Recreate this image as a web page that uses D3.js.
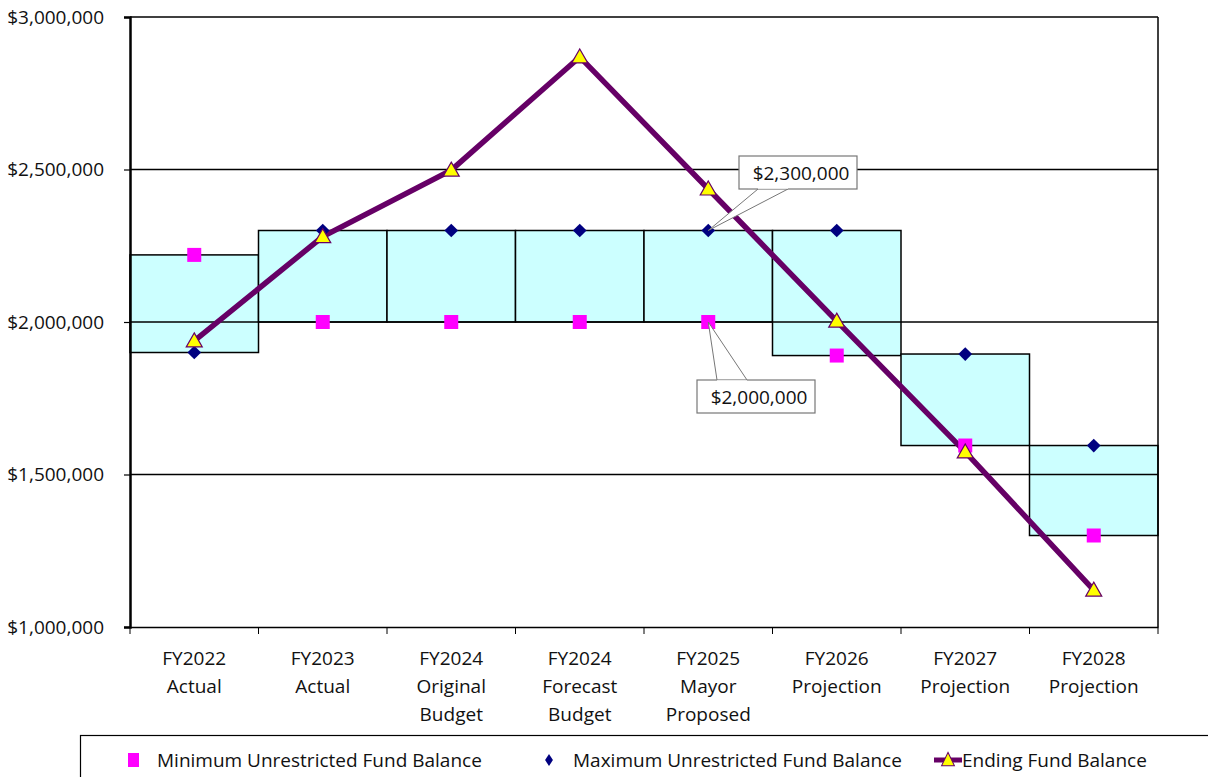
<!DOCTYPE html>
<html><head><meta charset="utf-8">
<script src="https://cdn.jsdelivr.net/npm/d3@7"></script>
<style>
body{margin:0;background:#fff;}
svg{display:block;font-family:"Open Sans",sans-serif;}
</style></head>
<body><svg id="c" width="1208" height="777"></svg>
<script>
const categories = [["FY2022","Actual"],["FY2023","Actual"],["FY2024","Original","Budget"],["FY2024","Forecast","Budget"],["FY2025","Mayor","Proposed"],["FY2026","Projection"],["FY2027","Projection"],["FY2028","Projection"]];
const minBalance = [2220000,2000000,2000000,2000000,2000000,1890000,1595000,1300000];
const maxBalance = [1900000,2300000,2300000,2300000,2300000,2300000,1895000,1595000];
const endingBalance = [1938000,2280000,2498000,2869000,2436000,2003000,1574000,1121000];
const yTicks = [1000000,1500000,2000000,2500000,3000000];
const seriesNames = ["Minimum Unrestricted Fund Balance","Maximum Unrestricted Fund Balance","Ending Fund Balance"];

const FS = 19;
const svg = d3.select("#c");
const L=130,R=1158,T=17,B=627;
const keys = categories.map((c,i)=>i);
const x = d3.scaleBand().domain(keys).range([L,R]).padding(0);
const y = d3.scaleLinear().domain([1000000,3000000]).range([B,T]);
const cx = i => x(i)+x.bandwidth()/2;
const fmt = v => "$"+d3.format(",")(v);

// boxes
svg.append("g").selectAll("rect").data(keys).join("rect")
  .attr("x",i=>x(i)).attr("width",x.bandwidth())
  .attr("y",i=>y(Math.max(minBalance[i],maxBalance[i])))
  .attr("height",i=>Math.abs(y(minBalance[i])-y(maxBalance[i])))
  .attr("fill","#CCFFFF").attr("stroke","#000").attr("stroke-width",1.5);

// gridlines
svg.append("g").selectAll("line").data(yTicks.slice(1)).join("line")
  .attr("x1",L).attr("x2",R).attr("y1",d=>y(d)).attr("y2",d=>y(d))
  .attr("stroke","#000").attr("stroke-width",1.5);
svg.append("line").attr("x1",R).attr("x2",R).attr("y1",T).attr("y2",B).attr("stroke","#000").attr("stroke-width",1.5);

// y axis
const ya = svg.append("g").attr("transform",`translate(${L},0)`)
  .call(d3.axisLeft(y).tickValues(yTicks).tickFormat(fmt).tickSize(6).tickPadding(20));
ya.attr("font-size",FS).attr("font-family",null);
ya.select(".domain").attr("stroke","#000").attr("stroke-width",2.5);
ya.selectAll(".tick line").attr("stroke","#000").attr("stroke-width",1.2);
ya.selectAll("text").attr("fill","#111");

// x axis
const xa = svg.append("g").attr("transform",`translate(0,${B})`)
  .call(d3.axisBottom(x).tickSize(0).tickFormat(""));
xa.select(".domain").attr("stroke","#000").attr("stroke-width",1.5);
svg.append("g").selectAll("line").data(d3.range(categories.length+1)).join("line")
  .attr("x1",i=>L+i*x.bandwidth()).attr("x2",i=>L+i*x.bandwidth())
  .attr("y1",B).attr("y2",B+7).attr("stroke","#000").attr("stroke-width",1);
const xl = svg.append("g").selectAll("text").data(keys).join("text")
  .attr("x",i=>cx(i)).attr("y",B+38).attr("text-anchor","middle")
  .attr("font-size",FS).attr("fill","#111");
xl.each(function(i){
  const t=d3.select(this);
  categories[i].forEach((s,k)=>t.append("tspan").attr("x",cx(i)).attr("dy",k?28:0).text(s));
});

// ending line
const line = d3.line().x((d,i)=>cx(i)).y(d=>y(d));
svg.append("path").datum(endingBalance).attr("d",line)
  .attr("fill","none").attr("stroke","#660066").attr("stroke-width",5.5).attr("stroke-linejoin","miter");

// min squares
svg.append("g").selectAll("rect").data(minBalance).join("rect")
  .attr("x",(d,i)=>cx(i)-7).attr("y",d=>y(d)-7).attr("width",14).attr("height",14)
  .attr("fill","#FF00FF");
// max diamonds
const diamond = d3.symbol().type(d3.symbolDiamond2).size(120);
svg.append("g").selectAll("path").data(maxBalance).join("path")
  .attr("d",diamond).attr("transform",(d,i)=>`translate(${cx(i)},${y(d)})`)
  .attr("fill","#000080");
// triangles
const tri = "M0,-8L8,6L-8,6Z";
svg.append("g").selectAll("path").data(endingBalance).join("path")
  .attr("d",tri).attr("transform",(d,i)=>`translate(${cx(i)},${y(d)})`)
  .attr("fill","#FFFF00").attr("stroke","#660066").attr("stroke-width",1.2);

// callouts
function callout(i,val,bx,by,bw,bh,p1,p2){
  const px=cx(i), py=y(val);
  const g=svg.append("g");
  g.append("path").attr("d",`M${p1[0]},${p1[1]}L${px},${py}L${p2[0]},${p2[1]}`)
    .attr("fill","#fff").attr("stroke","#777").attr("stroke-width",1);
  g.append("rect").attr("x",bx).attr("y",by).attr("width",bw).attr("height",bh)
    .attr("fill","#fff").attr("stroke","#777").attr("stroke-width",1.2);
  g.append("path").attr("d",`M${p1[0]},${p1[1]+(p1[1]<py?-1.5:1.5)}L${p2[0]},${p2[1]+(p2[1]<py?-1.5:1.5)}`).attr("stroke","#fff").attr("stroke-width",2.5);
  g.append("text").attr("x",bx+bw/2+3).attr("y",by+bh/2+7).attr("text-anchor","middle")
    .attr("font-size",FS).attr("fill","#111").text(fmt(val));
}
callout(4,maxBalance[4],739,156,118,33,[758,189],[788,189]);
callout(4,minBalance[4],697,380,118,33,[717,380],[747,380]);

// legend
const lg = svg.append("g");
lg.append("rect").attr("x",80.5).attr("y",735.5).attr("width",1140).attr("height",60)
  .attr("fill","#fff").attr("stroke","#000").attr("stroke-width",1.2);
lg.append("rect").attr("x",128).attr("y",753).attr("width",11).attr("height",14).attr("fill","#FF00FF");
lg.append("text").attr("x",157).attr("y",767).attr("font-size",FS).attr("fill","#111").text(seriesNames[0]);
lg.append("path").attr("d",d3.symbol().type(d3.symbolDiamond2).size(70)).attr("transform","translate(549,760) scale(0.75,1.15)").attr("fill","#000080");
lg.append("text").attr("x",573).attr("y",767).attr("font-size",FS).attr("fill","#111").text(seriesNames[1]);
lg.append("line").attr("x1",934).attr("x2",962).attr("y1",760).attr("y2",760).attr("stroke","#660066").attr("stroke-width",5);
lg.append("path").attr("d",tri).attr("transform","translate(948,760) scale(0.8,0.95)").attr("fill","#FFFF00").attr("stroke","#660066").attr("stroke-width",1.2);
lg.append("text").attr("x",962).attr("y",767).attr("font-size",FS).attr("fill","#111").text(seriesNames[2]);
</script></body></html>
